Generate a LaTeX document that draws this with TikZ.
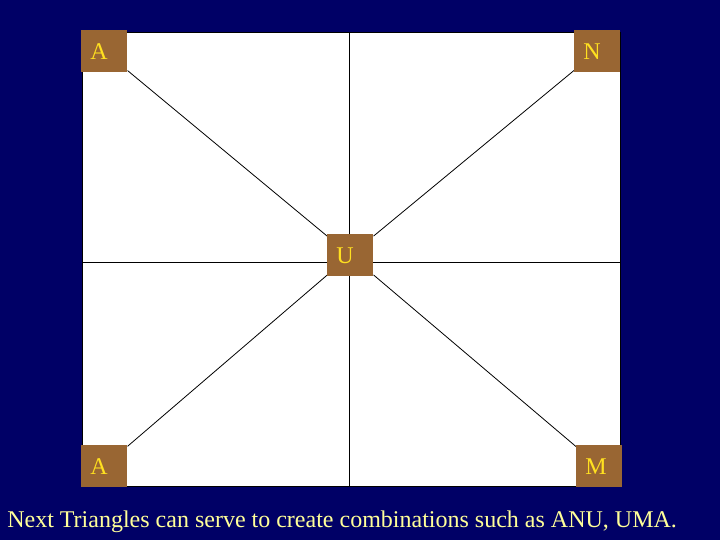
\documentclass[tikz,border=0pt]{standalone}
\usepackage{fontspec}
\setmainfont{Liberation Serif}
\usetikzlibrary{backgrounds}
\definecolor{slidebg}{HTML}{000066}
\definecolor{tilebrown}{HTML}{996633}
\definecolor{lettergold}{HTML}{FFE020}
\definecolor{captionyellow}{HTML}{FFFF99}

\begin{document}
\begin{tikzpicture}[x=0.75pt,y=0.75pt,yscale=-1,xscale=1,
  tile/.style={fill=tilebrown, draw=none, minimum width=34.5pt, minimum height=31.5pt,
    inner xsep=6.75pt, inner ysep=0pt, text width=21pt, align=left,
    text=lettergold, font=\fontsize{18}{20}\selectfont, anchor=north west},
  spoke/.style={draw=black, line width=0.6pt}]
%set diagram to the size of the slide
\useasboundingbox (0,0) rectangle (720,540);

% Letter tiles
\node[tile] (A1) at (81,30) {A};
\node[tile] (N) at (574,30) {N};
\node[tile] (U) at (327,234) {U};
\node[tile] (A2) at (81,445) {A};
\node[tile] (M) at (576,445) {M};

%Frame corners and midpoints
\coordinate (frameNW) at (82,32);
\coordinate (frameSE) at (620,486);
\coordinate (frameN) at (349,32);
\coordinate (frameS) at (349,486);
\coordinate (frameW) at (82,262);
\coordinate (frameE) at (620,262);

\begin{scope}[on background layer]
%Slide background
\fill[slidebg] (0,0) rectangle (720,540);
%White frame
\draw[fill=white, draw=black, line width=0.5pt] (frameNW) rectangle (frameSE);
%Straight Lines
\draw[spoke] (frameN) -- (frameS);
\draw[spoke] (frameW) -- (frameE);
%Diagonal Lines
\draw[spoke] (A1) -- (U);
\draw[spoke] (N) -- (U);
\draw[spoke] (A2) -- (U);
\draw[spoke] (M) -- (U);
\end{scope}

% Text Node
\node[anchor=base west, inner sep=0pt, text=captionyellow, font=\fontsize{18}{20}\selectfont] (caption) at (7,527) {Next Triangles can serve to create combinations such as ANU, UMA.};
\end{tikzpicture}
\end{document}
